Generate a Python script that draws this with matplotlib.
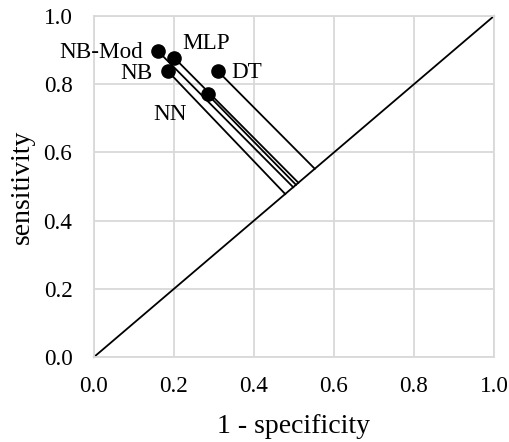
import matplotlib
matplotlib.use("Agg")
import matplotlib.pyplot as plt

# classifiers in ROC space
names = ["NB-Mod", "MLP", "NB", "NN", "DT"]
fpr = [0.159, 0.201, 0.184, 0.284, 0.309]      # 1 - specificity
tpr = [0.898, 0.877, 0.839, 0.770, 0.839]      # sensitivity
# where each connector meets the chance diagonal
foot = [0.498, 0.511, 0.478, 0.505, 0.552]

ticks = [0.0, 0.2, 0.4, 0.6, 0.8, 1.0]
tick_labels = ["0.0", "0.2", "0.4", "0.6", "0.8", "1.0"]

# label placement (offset in points, alignment)
label_pos = {
    "NB-Mod": ((-10.5, 0.5), "right"),
    "MLP": ((6, 12.5), "left"),
    "NB": ((-10.5, 0), "right"),
    "NN": ((-27, -12.5), "center"),
    "DT": ((10, 0.7), "left"),
}

plt.rcParams["font.family"] = ["Liberation Serif", "DejaVu Serif"]

fig = plt.figure(figsize=(5.1, 4.42), dpi=100)
ax = fig.add_axes([0.1843, 0.1923, 0.7843, 0.7715])

grid_color = "#d9d9d9"
ax.set_xlim(0, 1)
ax.set_ylim(0, 1)
ax.set_xticks(ticks)
ax.set_yticks(ticks)
ax.set_xticklabels(tick_labels)
ax.set_yticklabels(tick_labels)
ax.grid(True, color=grid_color, linewidth=1.3)
ax.set_axisbelow(True)
for s in ax.spines.values():
    s.set_color(grid_color)
    s.set_linewidth(1.3)
ax.tick_params(axis="y", length=0, labelsize=16.7, pad=15.5)
ax.tick_params(axis="x", length=0, labelsize=16.7, pad=14)

# chance diagonal
ax.plot([0, 1], [0, 1], color="black", linewidth=1.3, clip_on=False)

# connectors from each point down to the diagonal
for x, y, f in zip(fpr, tpr, foot):
    ax.plot([x, f], [y, f], color="black", linewidth=1.3)

ax.plot(fpr, tpr, "o", color="black", markersize=9.5, zorder=5)

for n, x, y in zip(names, fpr, tpr):
    off, ha = label_pos[n]
    ax.annotate(n, (x, y), xytext=off, textcoords="offset points",
                ha=ha, va="center_baseline", fontsize=16.7)

ax.set_xlabel("1 - specificity", fontsize=20)
ax.set_ylabel("sensitivity", fontsize=20)
ax.xaxis.label.set_va("center")
ax.yaxis.label.set_va("center")
ax.xaxis.set_label_coords(0.5, -0.205)
ax.yaxis.set_label_coords(-0.18, 0.5)

fig.savefig("out.png", dpi=100)
